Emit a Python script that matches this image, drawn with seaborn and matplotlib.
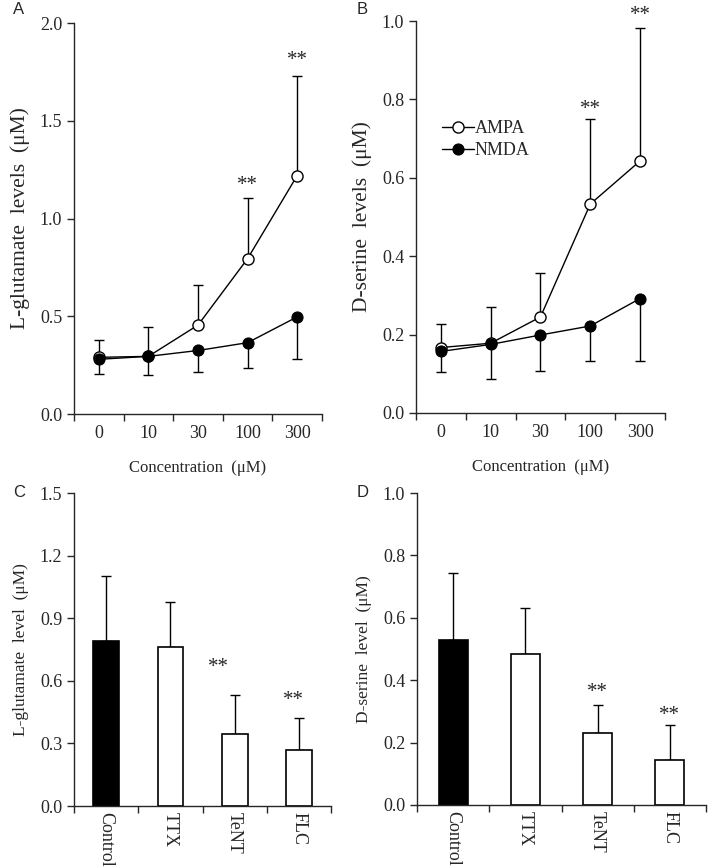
"""
L-glutamate / D-serine release panels (A-D).
"""
import numpy as np
import pandas as pd
import matplotlib
matplotlib.use("Agg")
import matplotlib.pyplot as plt
import seaborn as sns

sns.set_style("ticks")
plt.rcParams["font.family"] = ["Liberation Serif", "DejaVu Serif"]

# Date
conc_labels = ["0", "10", "30", "100", "300"]

glu_ampa = [0.29, 0.295, 0.455, 0.795, 1.22]
glu_ampa_err = [0.09, 0.15, 0.205, 0.31, 0.51]
glu_nmda = [0.28, 0.295, 0.325, 0.365, 0.497]
glu_nmda_err = [0.075, 0.095, 0.11, 0.13, 0.217]

ser_ampa = [0.167, 0.178, 0.245, 0.533, 0.643]
ser_ampa_err = [0.06, 0.092, 0.112, 0.217, 0.34]
ser_nmda = [0.157, 0.175, 0.199, 0.222, 0.292]
ser_nmda_err = [0.052, 0.088, 0.091, 0.089, 0.159]

treatments = ["Control", "TTX", "TeNT", "FLC"]
glu_treat = [0.79, 0.76, 0.345, 0.27]
glu_treat_err = [0.31, 0.22, 0.185, 0.15]
ser_treat = [0.53, 0.485, 0.23, 0.145]
ser_treat_err = [0.214, 0.145, 0.09, 0.11]

FS = 13


def _style_axis(ax, n, pad=8):
    ax.spines[["top", "right"]].set_visible(False)
    ax.spines[["left", "bottom"]].set_linewidth(1.0)
    ax.set_xlim(-0.5, n - 0.5)
    ax.set_xticks(np.arange(n))
    ax.set_xticks(np.arange(n + 1) - 0.5, minor=True)
    ax.tick_params(axis="x", which="major", length=0, labelsize=FS, pad=pad)
    ax.tick_params(axis="x", which="minor", length=5, width=1, direction="out")
    ax.tick_params(axis="y", length=5, width=1, direction="out", labelsize=FS)


def _line_panel(ax, ampa, ampa_err, nmda, nmda_err, ylim, yticks, ylabel, stars, legend=False):
    x = np.arange(len(conc_labels))
    df = pd.DataFrame({"x": np.concatenate([x, x]),
                       "y": ampa + nmda,
                       "g": ["AMPA"] * len(x) + ["NMDA"] * len(x)})
    ax.errorbar(x, ampa, yerr=[np.zeros(len(x)), ampa_err], fmt="none",
                ecolor="black", elinewidth=1, capsize=3.5, capthick=1, zorder=1)
    ax.errorbar(x, nmda, yerr=[nmda_err, np.zeros(len(x))], fmt="none",
                ecolor="black", elinewidth=1, capsize=3.5, capthick=1, zorder=1)
    sns.lineplot(data=df[df.g == "AMPA"], x="x", y="y", ax=ax, color="black",
                 marker="o", markersize=8, markerfacecolor="white",
                 markeredgecolor="black", markeredgewidth=1, linewidth=1,
                 label="AMPA", zorder=3)
    sns.lineplot(data=df[df.g == "NMDA"], x="x", y="y", ax=ax, color="black",
                 marker="o", markersize=8, markerfacecolor="black",
                 markeredgecolor="black", linewidth=1, label="NMDA", zorder=3)
    _style_axis(ax, len(x))
    ax.set_xticklabels(conc_labels)
    ax.set_ylim(*ylim)
    ax.set_yticks(yticks)
    ax.set_yticklabels([f"{t:.1f}" for t in yticks])
    ax.set_ylabel(ylabel, fontsize=15.5, labelpad=7)
    ax.set_xlabel("Concentration  (\u03bcM)", fontsize=12, labelpad=13)
    for xi, yi in stars:
        ax.text(xi, yi, "**", ha="center", va="center", fontsize=15, clip_on=False)
    if legend:
        ax.legend(loc="upper left", bbox_to_anchor=(0.075, 0.765), frameon=False,
                  fontsize=FS, handlelength=1.8, handletextpad=0.0,
                  labelspacing=0.25, borderaxespad=0)
    else:
        ax.get_legend().remove()


def _bar_panel(ax, vals, errs, ylim, yticks, ylabel, stars):
    df = pd.DataFrame({"t": treatments, "v": vals})
    sns.barplot(data=df, x="t", y="v", hue="t", ax=ax, width=0.4,
                palette=["black", "white", "white", "white"],
                edgecolor="black", linewidth=1.2, legend=False, zorder=2)
    x = np.arange(len(treatments))
    ax.errorbar(x, vals, yerr=[np.zeros(len(x)), errs], fmt="none",
                ecolor="black", elinewidth=1, capsize=3.5, capthick=1, zorder=1)
    _style_axis(ax, len(treatments), pad=4)
    ax.set_xticklabels(treatments, rotation=-90, va="top")
    ax.set_xlabel("")
    ax.set_ylim(*ylim)
    ax.set_yticks(yticks)
    ax.set_yticklabels([f"{t:.1f}" for t in yticks])
    ax.set_ylabel(ylabel, fontsize=12.5, labelpad=8)
    for xi, yi in stars:
        ax.text(xi, yi, "**", ha="center", va="center", fontsize=15)


fig = plt.figure(figsize=(7.09, 8.68), dpi=100)
axA = fig.add_axes([0.1044, 0.523, 0.3498, 0.4505])
axB = fig.add_axes([0.5867, 0.5242, 0.3512, 0.4516])
axC = fig.add_axes([0.1044, 0.0714, 0.3625, 0.3606])
axD = fig.add_axes([0.5882, 0.0726, 0.4076, 0.3594])

_line_panel(axA, glu_ampa, glu_ampa_err, glu_nmda, glu_nmda_err,
            (0, 2.0), [0.0, 0.5, 1.0, 1.5, 2.0],
            "L-glutamate  levels  (\u03bcM)", [(3, 1.17), (4, 1.81)])
_line_panel(axB, ser_ampa, ser_ampa_err, ser_nmda, ser_nmda_err,
            (0, 1.0), [0.0, 0.2, 0.4, 0.6, 0.8, 1.0],
            "D-serine  levels  (\u03bcM)", [(3, 0.775), (4, 1.015)], legend=True)
_bar_panel(axC, glu_treat, glu_treat_err, (0, 1.5), [0.0, 0.3, 0.6, 0.9, 1.2, 1.5],
           "L-glutamate  level  (\u03bcM)", [(1.75, 0.665), (2.92, 0.505)])
_bar_panel(axD, ser_treat, ser_treat_err, (0, 1.0), [0.0, 0.2, 0.4, 0.6, 0.8, 1.0],
           "D-serine  level  (\u03bcM)", [(2, 0.362), (3, 0.287)])

for lab, (xp, yp) in zip("ABCD", [(13, 10), (357, 10), (13, 493), (357, 493)]):
    fig.text(xp / 709, 1 - yp / 868, lab, fontsize=12, family="Liberation Sans",
             ha="left", va="center")

fig.savefig("out.png", dpi=100)
